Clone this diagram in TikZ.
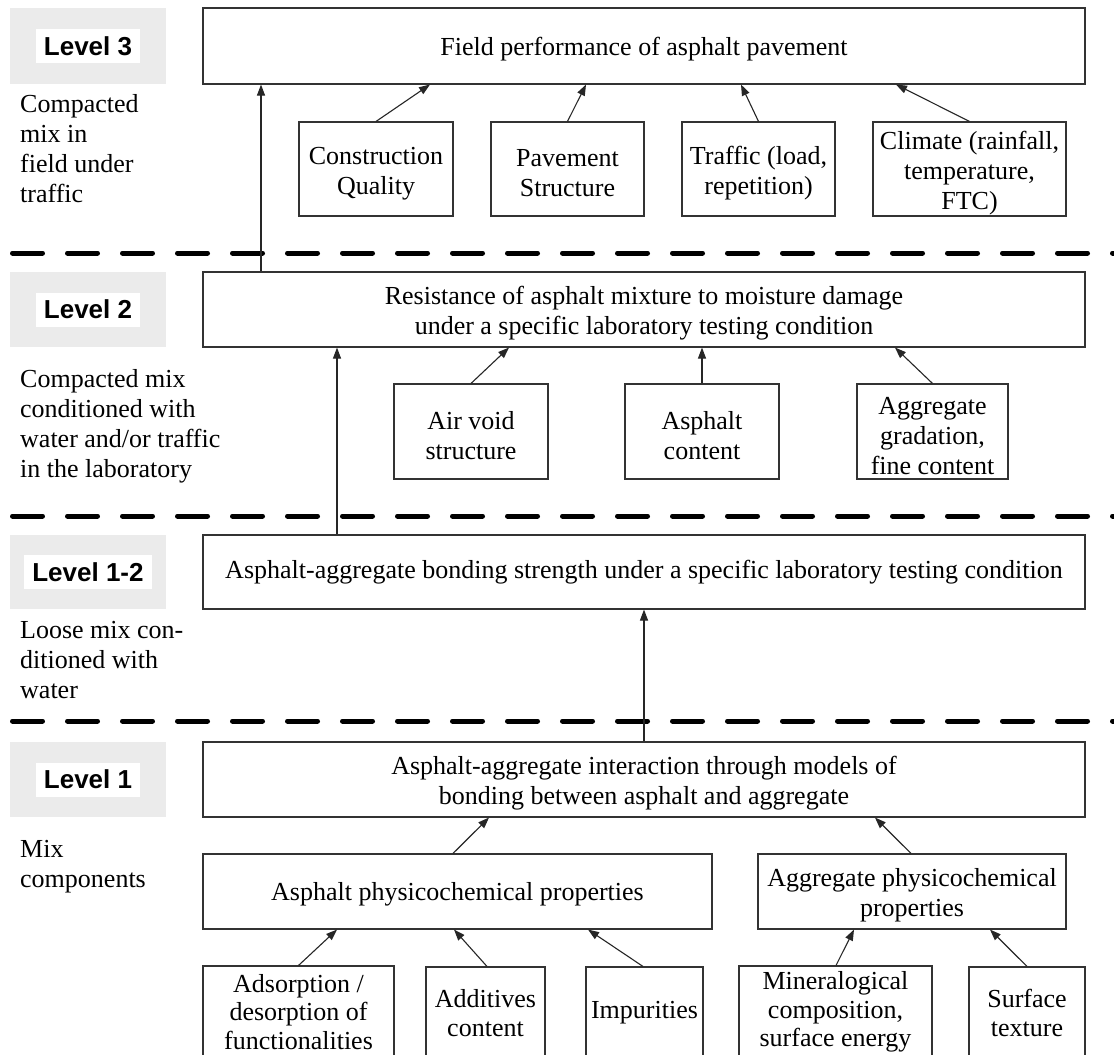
\documentclass[tikz,border=0pt]{standalone}
\usepackage{fontspec}
\setmainfont{Liberation Serif}
\newfontfamily\lvlfont{Liberation Sans}
\usetikzlibrary{arrows.meta}
\newcommand{\tpstrut}{\rule{0pt}{26pt}}
\begin{document}
\begin{tikzpicture}[x=1pt,y=-1pt,
  txt/.style={font=\fontsize{26}{30}\selectfont},
  plainbox/.style={txt, draw=black!80, line width=1.1pt, align=center, inner sep=0pt},
  box/.style={plainbox, execute at begin node={\rule{0pt}{24pt}}},
  lowbox/.style={plainbox, font=\fontsize{26}{28.5}\selectfont},
  arr/.style={draw=black!85, line width=1.1pt, -{Triangle[length=11pt,width=8pt]}},
  sepline/.style={draw=black, line width=5pt, dash pattern=on 30pt off 25pt, line cap=round},
  graybox/.style={fill=black!8, draw=none, inner sep=0pt, minimum width=156pt},
  lvl/.style={fill=white, inner xsep=8pt, inner ysep=0pt, minimum height=34pt, font=\lvlfont\bfseries\fontsize{26}{30}\selectfont},
  desc/.style={txt, anchor=north west, align=left, inner sep=0pt}]
\useasboundingbox (0,0) rectangle (1114,1055);
\fill[white] (0,0) rectangle (1114,1055);
\clip (0,0) rectangle (1114,1055);

% separators
\coordinate (s3a) at (12.5,253); \coordinate (s3b) at (1140,253);
\coordinate (s2a) at (12.5,516); \coordinate (s2b) at (1140,516);
\coordinate (s1a) at (12.5,721); \coordinate (s1b) at (1140,721);
\draw[sepline] (s3a) -- (s3b);
\draw[sepline] (s2a) -- (s2b);
\draw[sepline] (s1a) -- (s1b);

% level labels
\node[graybox, minimum height=76pt] (g3) at (88,46) {};
\node[lvl] (t3) at (88,46) {Level 3};
\node[graybox, minimum height=75pt] (g2) at (88,309.5) {};
\node[lvl] (t2) at (88,309.5) {Level 2};
\node[graybox, minimum height=74pt] (g12) at (88,572) {};
\node[lvl] (t12) at (88,572) {Level 1-2};
\node[graybox, minimum height=75pt] (g1) at (88,779.5) {};
\node[lvl] (t1) at (88,779.5) {Level 1};

% descriptions
\node[desc] (d3) at (20,94) {Compacted\\mix in\\field under\\traffic};
\node[desc] (d2) at (20,369) {Compacted mix\\conditioned with\\water and/or traffic\\in the laboratory};
\node[desc] (d12) at (20,621) {Loose mix con-\\ditioned with\\water};
\node[desc] (d1) at (20,840) {Mix\\components};

% level 3
\node[box, minimum width=882pt, minimum height=76pt] (L3) at (644,46) {Field performance of asphalt pavement};
\node[plainbox, minimum width=154pt, minimum height=94pt] (cq) at (376,169) {\tpstrut Construction\\Quality};
\node[plainbox, minimum width=153pt, minimum height=94pt] (ps) at (567.5,169) {\tpstrut Pavement\\Structure};
\node[plainbox, minimum width=153pt, minimum height=94pt] (tr) at (758.5,169) {\tpstrut Traffic (load,\\repetition)};
\node[plainbox, minimum width=193pt, minimum height=94pt] (cl) at (969.5,169) {\tpstrut Climate (rainfall,\\temperature,\\FTC)};

% level 2
\node[plainbox, minimum width=882pt, minimum height=75pt] (L2) at (644,309.5) {\tpstrut Resistance of asphalt mixture to moisture damage\\under a specific laboratory testing condition};
\node[plainbox, minimum width=154pt, minimum height=95pt] (av) at (471,431.5) {\tpstrut Air void\\structure};
\node[plainbox, minimum width=154pt, minimum height=95pt] (ac) at (702,431.5) {\tpstrut Asphalt\\content};
\node[plainbox, minimum width=151pt, minimum height=95pt] (ag) at (932.5,431.5) {\tpstrut Aggregate\\gradation,\\fine content};

% level 1-2
\node[plainbox, minimum width=882pt, minimum height=74pt] (L12) at (644,572) {Asphalt-aggregate bonding strength under a specific laboratory testing condition};

% level 1
\node[plainbox, minimum width=882pt, minimum height=75pt] (L1) at (644,779.5) {\tpstrut Asphalt-aggregate interaction through models of\\bonding between asphalt and aggregate};
\node[box, minimum width=509pt, minimum height=75pt] (ap) at (457.5,891.5) {Asphalt physicochemical properties};
\node[plainbox, minimum width=308pt, minimum height=75pt] (gp) at (912,891.5) {\tpstrut Aggregate physicochemical\\properties};
\node[lowbox, minimum width=191pt, minimum height=92pt] (ad) at (298.5,1012) {Adsorption /\\desorption of\\functionalities};
\node[lowbox, minimum width=119pt, minimum height=92pt] (adc) at (485.5,1013) {Additives\\content};
\node[lowbox, minimum width=117pt, minimum height=92pt] (im) at (644.5,1013) {Impurities};
\node[lowbox, minimum width=193pt, minimum height=92pt] (mi) at (835.5,1012) {Mineralogical\\composition,\\surface energy};
\node[lowbox, minimum width=116pt, minimum height=92pt] (st) at (1027,1013) {Surface\\texture};

% arrows level 3
\draw[arr] (cq.north) -- ([xshift=-214pt]L3.south);
\draw[arr] (ps.north) -- ([xshift=-58pt]L3.south);
\draw[arr] (tr.north) -- ([xshift=97pt]L3.south);
\draw[arr] (cl.north) -- ([xshift=252pt]L3.south);
\draw[arr] ([xshift=-383pt]L2.north) -- ([xshift=-383pt]L3.south);

% arrows level 2
\draw[arr] (av.north) -- ([xshift=-135pt]L2.south);
\draw[arr] (ac.north) -- ([xshift=58pt]L2.south);
\draw[arr] (ag.north) -- ([xshift=251pt]L2.south);
\draw[arr] ([xshift=-307pt]L12.north) -- ([xshift=-307pt]L2.south);

% arrow level 1-2
\draw[arr] (L1.north) -- (L12.south);

% arrows level 1
\draw[arr] ([xshift=-4.5pt]ap.north) -- ([xshift=-155pt]L1.south);
\draw[arr] ([xshift=-1pt]gp.north) -- ([xshift=231pt]L1.south);
\draw[arr] (ad.north) -- ([xshift=-120.5pt]ap.south);
\draw[arr] ([xshift=1.5pt]adc.north) -- ([xshift=-3.5pt]ap.south);
\draw[arr] ([xshift=-1.5pt]im.north) -- ([xshift=130.5pt]ap.south);
\draw[arr] ([xshift=0.5pt]mi.north) -- ([xshift=-58pt]gp.south);
\draw[arr] (st.north) -- ([xshift=78pt]gp.south);
\end{tikzpicture}
\end{document}
